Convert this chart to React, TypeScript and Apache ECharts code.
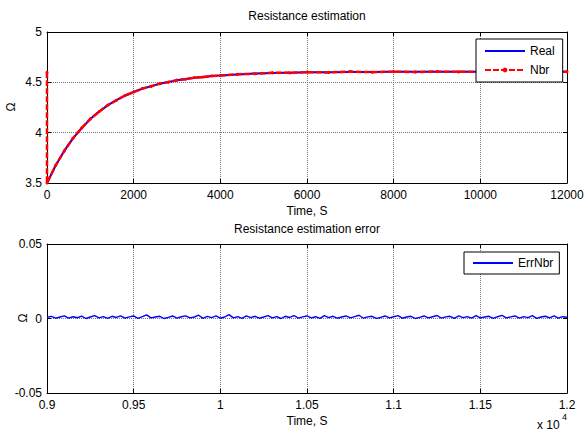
import React, { useEffect, useRef } from "react";
import * as echarts from "echarts";

const topTimes = [
  0, 200, 400, 600, 800, 1000, 1200, 1400, 1600, 1800, 2000, 2200, 2400, 2600, 2800, 3000,
  3200, 3400, 3600, 3800, 4000, 4400, 4800, 5200, 5600, 6000, 6500, 7000, 7500, 8000, 8500,
  9000, 9500, 10000, 10500, 11000, 11500, 12000,
];
const realValues = [
  3.5, 3.674, 3.821, 3.943, 4.047, 4.135, 4.209, 4.271, 4.323, 4.367, 4.405, 4.436, 4.462,
  4.485, 4.504, 4.52, 4.533, 4.545, 4.554, 4.562, 4.569, 4.579, 4.587, 4.592, 4.596, 4.599,
  4.601, 4.602, 4.603, 4.604, 4.605, 4.605, 4.605, 4.605, 4.605, 4.605, 4.605, 4.605,
];
const nbrInitial = 4.6;
const nbrValues = [
  3.5, 3.676, 3.819, 3.945, 4.045, 4.137, 4.207, 4.273, 4.321, 4.369, 4.403, 4.438, 4.46,
  4.487, 4.502, 4.522, 4.531, 4.547, 4.552, 4.564, 4.567, 4.581, 4.585, 4.594, 4.594, 4.601,
  4.598, 4.607, 4.601, 4.606, 4.603, 4.607, 4.604, 4.606, 4.603, 4.607, 4.604, 4.606,
];
const errStart = 0.9;
const errStep = 0.0025;
const errValues = [
  0.0008, 0.0014, 0.0002, 0.0010, 0.0018, 0.0003, 0.0012, 0.0005, 0.0016, 0.0000,
  0.0010, 0.0019, 0.0004, 0.0013, 0.0001, 0.0015, 0.0007, 0.0018, 0.0002, 0.0011,
  0.0017, 0.0001, 0.0012, 0.0024, 0.0004, 0.0010, 0.0015, 0.0000, 0.0008, 0.0017,
  0.0003, 0.0012, 0.0018, 0.0004, 0.0010, 0.0022, 0.0001, 0.0014, 0.0006, 0.0017,
  0.0002, 0.0010, 0.0026, 0.0004, 0.0013, 0.0001, 0.0017, 0.0006, 0.0015, 0.0002,
  0.0010, 0.0019, 0.0004, 0.0013, 0.0000, 0.0015, 0.0007, 0.0020, 0.0002, 0.0011,
  0.0017, 0.0004, 0.0012, 0.0001, 0.0019, 0.0006, 0.0015, 0.0002, 0.0010, 0.0017,
  0.0004, 0.0013, 0.0022, 0.0002, 0.0011, 0.0015, 0.0001, 0.0007, 0.0017, 0.0004,
  0.0012, 0.0019, 0.0002, 0.0010, 0.0015, 0.0000, 0.0008, 0.0017, 0.0004, 0.0012,
  0.0020, 0.0002, 0.0011, 0.0015, 0.0001, 0.0017, 0.0006, 0.0013, 0.0002, 0.0019,
  0.0004, 0.0010, 0.0015, 0.0001, 0.0012, 0.0021, 0.0004, 0.0011, 0.0017, 0.0002,
  0.0013, 0.0006, 0.0019, 0.0001, 0.0010, 0.0015, 0.0004, 0.0017, 0.0002, 0.0012,
  0.0008,
];

const FONT = "'Liberation Sans', Arial, sans-serif";

export default function App() {
  const ref = useRef<HTMLDivElement>(null);
  useEffect(() => {
    if (!ref.current) return;
    const chart = echarts.init(ref.current, null, { renderer: "svg" });
    const realData = topTimes.map((t, i) => [t, realValues[i]]);
    const nbrData = [[0, nbrInitial], ...topTimes.map((t, i) => [t, nbrValues[i]])];
    const errData = errValues.map((v, i) => [errStart + i * errStep, v]);

    const tick = { show: true, inside: true, length: 4, lineStyle: { color: "#000" } };
    const line = { show: true, onZero: false, lineStyle: { color: "#000", width: 1 } };
    const split = { show: true, lineStyle: { color: "#777", type: "dotted", width: 1 } };
    const lbl = { color: "#000", fontSize: 12, fontFamily: FONT };
    const plain = (v: number) => String(+v.toFixed(2));

    const mkX = (grid: number, min: number, max: number, interval: number, main: boolean) => ({
      type: "value",
      gridIndex: grid,
      position: main ? "bottom" : "top",
      min,
      max,
      interval,
      axisLine: line,
      axisTick: tick,
      splitLine: main ? split : { show: false },
      axisLabel: main ? { ...lbl, margin: 6, formatter: plain } : { show: false },
      name: main ? "Time, S" : "",
      nameLocation: "middle",
      nameGap: 22,
      nameTextStyle: lbl,
    });
    const mkY = (grid: number, min: number, max: number, interval: number, main: boolean) => ({
      type: "value",
      gridIndex: grid,
      position: main ? "left" : "right",
      min,
      max,
      interval,
      axisLine: line,
      axisTick: tick,
      splitLine: main ? split : { show: false },
      axisLabel: main ? { ...lbl, margin: 5, formatter: plain } : { show: false },
    });

    const hidden = { color: "rgba(0,0,0,0)", borderWidth: 0 };

    chart.setOption({
      animation: false,
      backgroundColor: "#fff",
      textStyle: { fontFamily: FONT },
      title: [
        { text: "Resistance estimation", left: 307, top: 10, textAlign: "center", padding: 0, textStyle: { ...lbl, fontWeight: "normal" } },
        { text: "Resistance estimation error", left: 307, top: 223, textAlign: "center", padding: 0, textStyle: { ...lbl, fontWeight: "normal" } },
      ],
      grid: [
        { left: 47, top: 32, width: 520, height: 151, containLabel: false, outerBoundsMode: "none" },
        { left: 47, top: 244, width: 520, height: 149, containLabel: false, outerBoundsMode: "none" },
      ],
      xAxis: [
        mkX(0, 0, 12000, 2000, true),
        mkX(0, 0, 12000, 2000, false),
        mkX(1, 0.9, 1.2, 0.05, true),
        mkX(1, 0.9, 1.2, 0.05, false),
      ],
      yAxis: [
        mkY(0, 3.5, 5, 0.5, true),
        mkY(0, 3.5, 5, 0.5, false),
        mkY(1, -0.05, 0.05, 0.05, true),
        mkY(1, -0.05, 0.05, 0.05, false),
      ],
      legend: [
        {
          data: [
            { name: "Real", itemStyle: hidden },
            { name: "Nbr" },
          ],
          orient: "vertical",
          left: 476,
          top: 39,
          padding: [5, 8, 5, 8],
          itemWidth: 40,
          itemHeight: 6,
          itemGap: 5,
          backgroundColor: "#fff",
          borderColor: "#000",
          borderWidth: 1,
          borderRadius: 0,
          textStyle: { ...lbl, lineHeight: 14 },
        },
        {
          data: [{ name: "ErrNbr", itemStyle: hidden }],
          orient: "vertical",
          left: 464,
          top: 252,
          padding: [4, 6, 4, 8],
          itemWidth: 40,
          itemHeight: 6,
          backgroundColor: "#fff",
          borderColor: "#000",
          borderWidth: 1,
          borderRadius: 0,
          textStyle: { ...lbl, lineHeight: 14 },
        },
      ],
      series: [
        {
          name: "Real",
          type: "line",
          xAxisIndex: 0,
          yAxisIndex: 0,
          data: realData,
          symbol: "none",
          color: "#0000ff",
          lineStyle: { color: "#0000ff", width: 2 },
        },
        {
          name: "Nbr",
          type: "line",
          xAxisIndex: 0,
          yAxisIndex: 0,
          data: nbrData,
          symbol: "circle",
          symbolSize: 3,
          showSymbol: true,
          color: "#ff0000",
          itemStyle: { color: "#ff0000" },
          lineStyle: { color: "#ff0000", width: 2.5, type: [6, 2] },
        },
        {
          name: "ErrNbr",
          type: "line",
          xAxisIndex: 2,
          yAxisIndex: 2,
          data: errData,
          symbol: "none",
          color: "#0000ff",
          lineStyle: { color: "#0000ff", width: 1.4 },
        },
      ],
      graphic: [
        {
          type: "text",
          x: 11,
          y: 107,
          rotation: Math.PI / 2,
          style: { text: "Ω", fill: "#000", font: `12px ${FONT}`, align: "center", verticalAlign: "middle" },
        },
        {
          type: "text",
          x: 23,
          y: 318,
          rotation: Math.PI / 2,
          style: { text: "Ω", fill: "#000", font: `12px ${FONT}`, align: "center", verticalAlign: "middle" },
        },
        { type: "text", left: 537, top: 419, style: { text: "x 10", fill: "#000", font: `12px ${FONT}` } },
        { type: "text", left: 562, top: 412, style: { text: "4", fill: "#000", font: `9px ${FONT}` } },
      ],
    });
    return () => chart.dispose();
  }, []);
  return (
    <div
      ref={ref}
      style={{ position: "absolute", left: 0, top: 0, width: 585, height: 433, background: "#fff" }}
    />
  );
}
